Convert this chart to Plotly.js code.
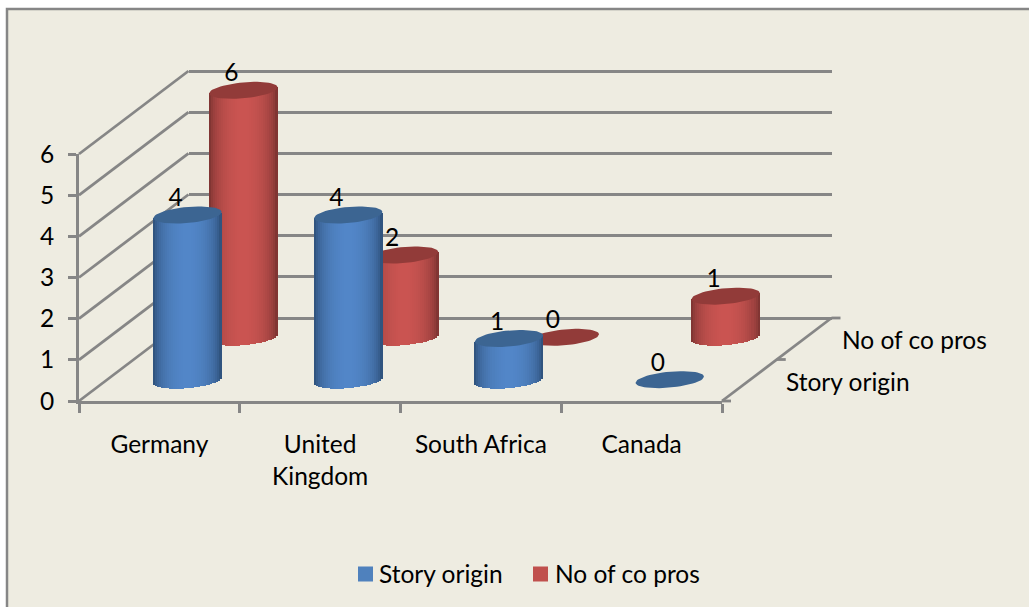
<!DOCTYPE html>
<html>
<head>
<meta charset="utf-8">
<script src="https://cdn.plot.ly/plotly-3.0.1.min.js"></script>
<style>html,body{margin:0;padding:0;background:#fff}#chart{width:1029px;height:607px}</style>
</head>
<body>
<div id="chart"></div>
<script>
// Values per country
const categories = ["Germany", "United<br>Kingdom", "South Africa", "Canada"];
const storyOrigin = [4, 4, 1, 0];
const coPros = [6, 2, 0, 1];
const valueTicks = [0, 1, 2, 3, 4, 5, 6];
const seriesNames = ["Story origin", "No of co pros"];

// Page and pseudo-3D projection of the chart box, in pixels
const W = 1029, H = 607;
const frontLeft = 79, frontRight = 722, floorY = 401, topY = 154;
const depthX = 109.5, depthY = 83;
const cell = (frontRight - frontLeft) / categories.length;
const unit = (floorY - topY) / 6;
const GREY = "#868686", BG = "#EEECE1", LINE = 2.8;
const FONT = {family: "Lato, Carlito, sans-serif", size: 24.5, color: "#000"};

// Cylinder proportions, in pixels
const radiusX = 34.2, radiusY = 8, capTilt = 3, stripPx = 2;

const domX = (l, r) => [l / W, r / W];
const domY = (bottomPx, topPx) => [(H - bottomPx) / H, (H - topPx) / H];

function mix(a, b, k) {
  const c = a.map((v, i) => Math.round(v + (b[i] - v) * k));
  return `rgb(${c[0]},${c[1]},${c[2]})`;
}

// Side of each cylinder: narrow vertical bars shaded from edge to centre,
// with their feet following the lower rim of the cylinder.
function cylinderSides(values, dark, mid, axes) {
  const x = [], y = [], base = [], color = [];
  const n = Math.round(2 * radiusX / stripPx);
  values.forEach((v, i) => {
    if (v === 0) return;
    for (let s = 0; s < n; s++) {
      const t = -1 + (2 * s + 1) / n;
      const round = Math.sqrt(1 - t * t);
      const lift = capTilt * t / unit;
      const foot = (-radiusY * round) / unit + lift;
      x.push(i + t * radiusX / cell);
      base.push(foot);
      y.push(v + lift - foot);
      color.push(mix(dark, mid, Math.pow(round, 1.15)));
    }
  });
  // the strips overlap slightly so no seam opens between neighbours
  return {type: "bar", x, y, base, width: (stripPx + 0.6) / cell, marker: {color, line: {width: 0}},
          hoverinfo: "skip", showlegend: false, xaxis: axes[0], yaxis: axes[1]};
}

// Elliptical caps on top of each cylinder
function cylinderCaps(values, color, axes) {
  const x = [], y = [];
  values.forEach((v, i) => {
    for (let d = 0; d <= 360; d += 6) {
      const r = d * Math.PI / 180;
      x.push(i + radiusX * Math.cos(r) / cell);
      y.push(v + (radiusY * Math.sin(r) + capTilt * Math.cos(r)) / unit);
    }
    x.push(null); y.push(null);
  });
  return {type: "scatter", mode: "lines", x, y, fill: "toself", fillcolor: color,
          line: {width: 0, color}, hoverinfo: "skip", showlegend: false,
          xaxis: axes[0], yaxis: axes[1]};
}

function valueLabels(values, axes) {
  return {type: "scatter", mode: "text", x: values.map((v, i) => i - 12 / cell),
          y: values.map(v => v + 15 / unit), text: values.map(String),
          textposition: "middle center", textfont: FONT, hoverinfo: "skip",
          showlegend: false, xaxis: axes[0], yaxis: axes[1]};
}

// Left wall, floor edge and depth-axis ticks, expressed in front-plane units
const wallX = [], wallY = [];
const spanX = depthX / cell, spanY = depthY / unit;
const segment = (x0, y0, x1, y1) => { wallX.push(x0, x1, null); wallY.push(y0, y1, null); };
valueTicks.forEach(v => segment(-0.5, v, -0.5 + spanX, v + spanY));
segment(3.5, 0, 3.5 + spanX, spanY);
[0, 0.5, 1].forEach(f => segment(3.5 + f * spanX, f * spanY, 3.5 + f * spanX + 9 / cell, f * spanY));

const pxX = p => -0.5 + (p - frontLeft) / cell;
const pxY = p => (floorY - p) / unit;

const frame = {type: "scatter", mode: "lines", x: wallX, y: wallY, line: {color: GREY, width: LINE},
               hoverinfo: "skip", showlegend: false, xaxis: "x2", yaxis: "y2"};
const depthLabels = {type: "scatter", mode: "text", x: [pxX(786), pxX(842)], y: [pxY(385), pxY(343)],
               text: seriesNames, textposition: "middle right", textfont: FONT,
               hoverinfo: "skip", showlegend: false, xaxis: "x2", yaxis: "y2"};
const keySwatches = {type: "scatter", mode: "markers", x: [pxX(365.5), pxX(540.5)], y: [pxY(574), pxY(574)],
               marker: {symbol: "square", size: 15, color: ["#4F81BD", "#C0504D"]},
               hoverinfo: "skip", showlegend: false, xaxis: "x2", yaxis: "y2"};
const keyLabels = {type: "scatter", mode: "text", x: [pxX(379), pxX(555)], y: [pxY(577), pxY(577)],
               text: seriesNames, textposition: "middle right", textfont: FONT,
               hoverinfo: "skip", showlegend: false, xaxis: "x2", yaxis: "y2"};

const frontHolder = {type: "scatter", mode: "markers", x: categories, y: categories.map(() => null),
               hoverinfo: "skip", showlegend: false, xaxis: "x", yaxis: "y"};
const backHolder = {type: "scatter", mode: "markers", x: [null], y: [null],
               hoverinfo: "skip", showlegend: false, xaxis: "x3", yaxis: "y3"};

const BLUE_DARK = [40, 72, 110], BLUE_MID = [82, 134, 200], BLUE_CAP = "#3C6592";
const RED_DARK = [112, 46, 44], RED_MID = [202, 84, 81], RED_CAP = "#923B39";
const redAxes = ["x4", "y4"], blueAxes = ["x5", "y5"];

const traces = [
  frontHolder, frame, depthLabels, keySwatches, keyLabels,
  backHolder,
  cylinderSides(coPros, RED_DARK, RED_MID, redAxes), cylinderCaps(coPros, RED_CAP, redAxes), valueLabels(coPros, redAxes),
  cylinderSides(storyOrigin, BLUE_DARK, BLUE_MID, blueAxes), cylinderCaps(storyOrigin, BLUE_CAP, blueAxes), valueLabels(storyOrigin, blueAxes)
];

const hidden = {visible: false, fixedrange: true};

// One axis pair for a cylinder row standing at a fraction of the chart depth
function rowAxes(f) {
  const left = frontLeft + f * depthX, right = frontRight + f * depthX;
  const zero = floorY - f * depthY;
  return {
    x: Object.assign({domain: domX(left, right), range: [-0.5, 3.5]}, hidden),
    y: Object.assign({domain: domY(zero + unit, zero - 7 * unit), range: [-1, 7]}, hidden)
  };
}
const redRow = rowAxes(0.767), blueRow = rowAxes(0.257);
const backZero = floorY - depthY;

const layout = {
  width: W, height: H, margin: {l: 0, r: 0, t: 0, b: 0},
  paper_bgcolor: "#FFFFFF", plot_bgcolor: "rgba(0,0,0,0)", showlegend: false, font: FONT, bargap: 0,
  shapes: [{type: "rect", xref: "paper", yref: "paper", layer: "below",
            x0: 7 / W, x1: 1.01, y0: -0.01, y1: (H - 9) / H,
            line: {color: GREY, width: 2.5}, fillcolor: BG}],
  xaxis: {domain: domX(frontLeft, frontRight), type: "category", categoryorder: "array", categoryarray: categories,
          range: [-0.5, 3.5], tickson: "boundaries", ticks: "outside", ticklen: 9, tickwidth: LINE, tickcolor: GREY,
          showline: true, linecolor: GREY, linewidth: LINE, showgrid: false, zeroline: false, tickfont: FONT,
          ticklabelstandoff: 20, anchor: "y", fixedrange: true},
  yaxis: {domain: domY(floorY, topY), range: [0, 6], tickvals: valueTicks, ticks: "outside", ticklen: 8, tickwidth: LINE,
          tickcolor: GREY, showline: true, linecolor: GREY, linewidth: LINE, showgrid: false, zeroline: false,
          tickfont: FONT, ticklabelstandoff: 9, anchor: "x", fixedrange: true},
  // full-page pair in front-plane units, used for the wall, depth axis and key
  xaxis2: Object.assign({domain: [0, 1], range: [pxX(0), pxX(W)], anchor: "y2"}, hidden),
  yaxis2: Object.assign({domain: [0, 1], range: [pxY(H), pxY(0)], anchor: "x2"}, hidden),
  xaxis3: {domain: domX(frontLeft + depthX, frontRight + depthX), range: [0, 1], showgrid: false, zeroline: false,
           showticklabels: false, ticks: "", showline: false, anchor: "y3", fixedrange: true},
  yaxis3: {domain: domY(backZero + unit, backZero - 7 * unit), range: [-1, 7], tickvals: valueTicks, showgrid: true,
           gridcolor: GREY, gridwidth: LINE, zeroline: false, showticklabels: false, ticks: "", showline: false,
           anchor: "x3", fixedrange: true},
  xaxis4: Object.assign({anchor: "y4"}, redRow.x),
  yaxis4: Object.assign({anchor: "x4"}, redRow.y),
  xaxis5: Object.assign({anchor: "y5"}, blueRow.x),
  yaxis5: Object.assign({anchor: "x5"}, blueRow.y)
};

Plotly.newPlot("chart", traces, layout, {displayModeBar: false, responsive: false});
</script>
</body>
</html>
